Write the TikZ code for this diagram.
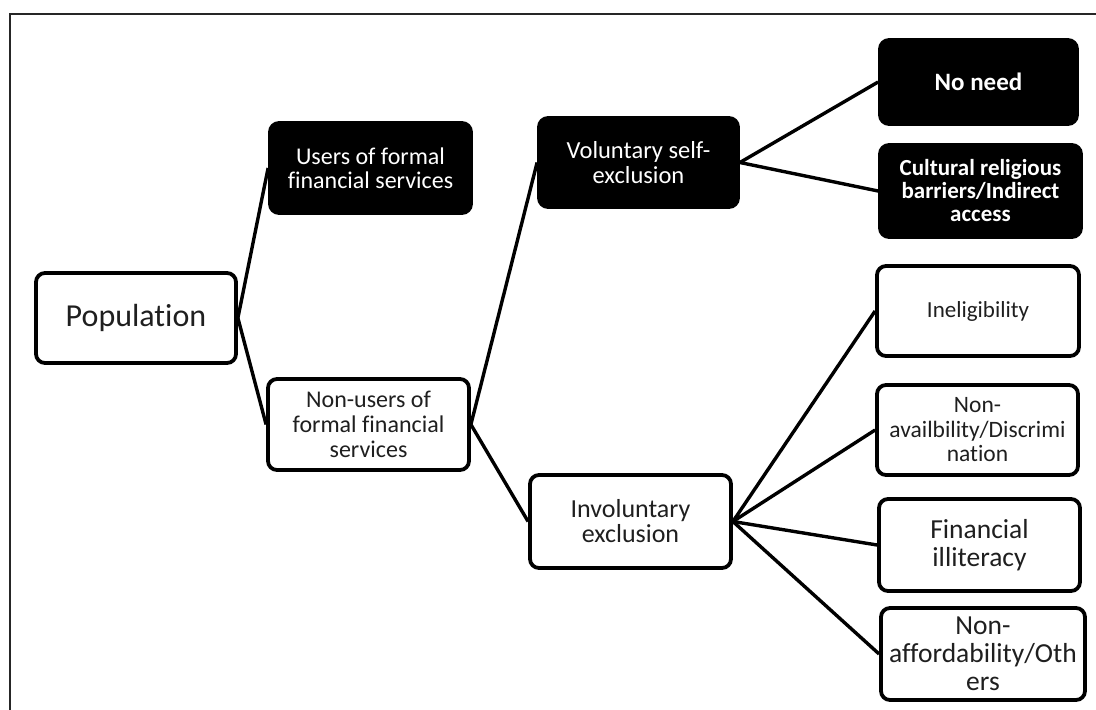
\documentclass[tikz,border=0pt]{standalone}
\usepackage{fontspec}
\setmainfont{Carlito}[Ligatures=NoCommon]
\begin{document}
\begin{tikzpicture}[x=1pt,y=-1pt,
  box/.style={draw=black, line width=3.8pt, rounded corners=9pt, align=center,
    inner sep=2pt, minimum width=#1},
  box/.default=201pt,
  lightbox/.style={box=#1, fill=white, text=black!88},
  lightbox/.default=201pt,
  darkbox/.style={box=#1, fill=black, text=white},
  darkbox/.default=201pt,
  link/.style={draw=black, line width=3.4pt},
  fs/.style 2 args={font=\fontsize{#1}{#2}\selectfont}
]
\useasboundingbox (0,0) rectangle (1096,710);
% frame around the page
\draw[line width=2pt, black!85] (10,720) -- (10,14) -- (1110,14);

% first level
\node[lightbox=200pt, minimum height=90pt, fs={32}{36}] (pop) at (136,318) {Population};
% second level
\node[darkbox, minimum height=90pt, fs={24}{24}] (users) at (370.5,168) {Users of formal\\financial services};
\node[lightbox, minimum height=91pt, fs={24}{25}] (nonusers) at (368.5,424.5) {Non-users of\\formal financial\\services};
% third level
\node[darkbox=199pt, minimum height=89pt, fs={24.5}{25}] (vol) at (638.5,162.5) {Voluntary self-\\exclusion};
\node[lightbox, minimum height=93pt, fs={26}{25}] (invol) at (630.5,521.5) {Involuntary\\exclusion};
% leaves of voluntary self-exclusion
\node[darkbox=197pt, minimum height=84pt, fs={25}{25}] (noneed) at (978.5,82) {\bfseries No need};
\node[darkbox, minimum height=92pt, fs={23}{23}] (cult) at (980.5,191) {\bfseries Cultural religious\\\bfseries barriers/Indirect\\\bfseries access};
% leaves of involuntary exclusion
\node[lightbox=202pt, minimum height=90pt, fs={23}{24}] (inel) at (978,311) {Ineligibility};
\node[lightbox, minimum height=90pt, fs={23.5}{24.5}] (nonav) at (977.5,430) {Non-\\availbility/Discrimi\\nation};
\node[lightbox, minimum height=92pt, fs={27.5}{28}] (fin) at (979.5,545) {Financial\\illiteracy};
\node[lightbox=204pt, minimum height=92pt, fs={27.5}{28}] (nonaff) at (983,654) {Non-\\affordability/Oth\\ers};

% connectors
\draw[link] (pop.east) -- (users.west);
\draw[link] (pop.east) -- (nonusers.west);
\draw[link] (nonusers.east) -- (vol.west);
\draw[link] (nonusers.east) -- (invol.west);
\draw[link] (vol.east) -- (noneed.west);
\draw[link] (vol.east) -- (cult.west);
\draw[link] (invol.east) -- (inel.west);
\draw[link] (invol.east) -- (nonav.west);
\draw[link] (invol.east) -- (fin.west);
\draw[link] (invol.east) -- (nonaff.west);
\end{tikzpicture}
\end{document}
